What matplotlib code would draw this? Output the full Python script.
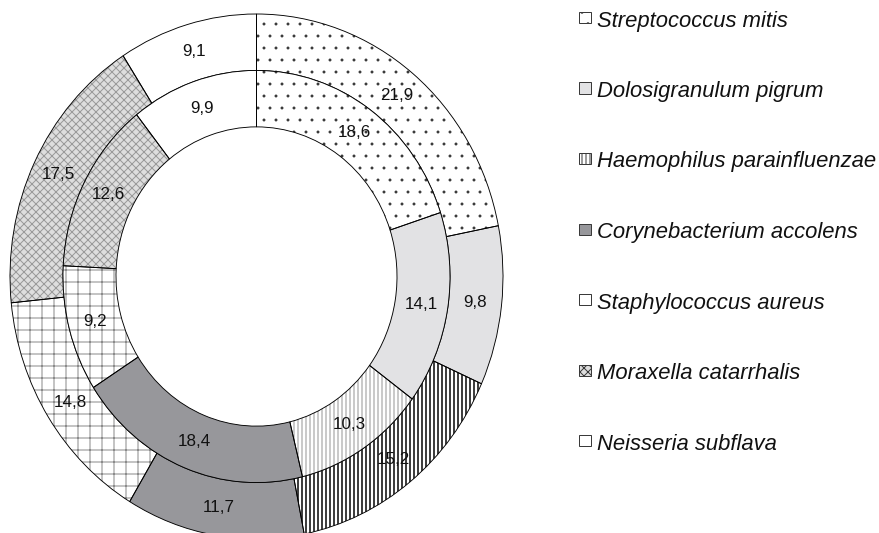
import matplotlib.pyplot as plt
from matplotlib.patches import Rectangle
import numpy as np

plt.rcParams['font.family'] = ['Liberation Sans', 'DejaVu Sans']
plt.rcParams['hatch.linewidth'] = 1.0

# Relative abundance (%) per species: outer and inner ring
species = ["Streptococcus mitis", "Dolosigranulum pigrum", "Haemophilus parainfluenzae",
           "Corynebacterium accolens", "Staphylococcus aureus", "Moraxella catarrhalis",
           "Neisseria subflava"]
outer_pct = [21.9, 9.8, 15.2, 11.7, 14.8, 17.5, 9.1]
inner_pct = [18.6, 14.1, 10.3, 18.4, 9.2, 12.6, 9.9]

# fill / hatch style per species
fills = ["white", "#e2e2e4", "white", "#97979b", "white", "#dedede", "white"]
hatches = [".", "", "|||", "", "+", "xxx", ""]
legend_hatches = [".", "", "|||", "", "", "xxx", ""]
outer_hatch_col = ["#333333", "none", "black", "none", "#8a8a8a", "#9a9a9a", "none"]
inner_hatch_col = ["#333333", "none", "#8a8a8a", "none", "#8a8a8a", "#9a9a9a", "none"]

W, H = 879, 533
fig = plt.figure(figsize=(W / 72, H / 72), dpi=72)
ax = fig.add_axes([0, 0, 1, 1])

ring_w = 0.215


def ring(values, radius, hatch_cols):
    wedges, _ = ax.pie(values, radius=radius, startangle=90, counterclock=False,
                       colors=fills, wedgeprops=dict(width=ring_w, linewidth=0))
    for w, h, hc in zip(wedges, hatches, hatch_cols):
        w.set_hatch(h)
        w.set_edgecolor(hc)
        w.set_linewidth(0)
    # thin dots
    if hasattr(wedges[0], "set_hatch_linewidth"):
        wedges[0].set_hatch_linewidth(0.4)
    # outlines on top
    ax.pie(values, radius=radius, startangle=90, counterclock=False,
           wedgeprops=dict(width=ring_w, fill=False, edgecolor="black", linewidth=0.9))
    for w, v in zip(wedges, values):
        mid = np.deg2rad((w.theta1 + w.theta2) / 2)
        r = radius - ring_w / 2
        ax.text(r * np.cos(mid), r * np.sin(mid), f"{v:.1f}".replace(".", ","),
                ha="center", va="center", fontsize=17, color="#111111")
    return wedges


outer_w = ring(outer_pct, 1.0, outer_hatch_col)
inner_w = ring(inner_pct, 1.0 - ring_w, inner_hatch_col)
# thicker stripes for the outer Haemophilus wedge
if hasattr(outer_w[2], "set_hatch_linewidth"):
    outer_w[2].set_hatch_linewidth(1.5)
    inner_w[2].set_hatch_linewidth(0.9)

# slightly oval layout
cx, cy = 256.5, 276.5
rx, ry = 246.5, 262.5
ax.set_aspect("auto")
ax.set_xlim(-cx / rx, (W - cx) / rx)
ax.set_ylim(-(H - cy) / ry, cy / ry)
ax.axis("off")

# legend drawn by hand
for i, name in enumerate(species):
    yc = 17.5 + 70.5 * i
    box = Rectangle((579 / W, 1 - (yc + 5.5) / H), 12 / W, 11 / H,
                    transform=fig.transFigure, facecolor=fills[i], hatch=legend_hatches[i],
                    edgecolor="#3a3a3a", linewidth=1.0)
    fig.add_artist(box)
    fig.text(597 / W, 1 - (yc + 9) / H, name, style="italic", fontsize=22,
             va="baseline", ha="left", color="#111111")

fig.savefig("out.png", dpi=72)
